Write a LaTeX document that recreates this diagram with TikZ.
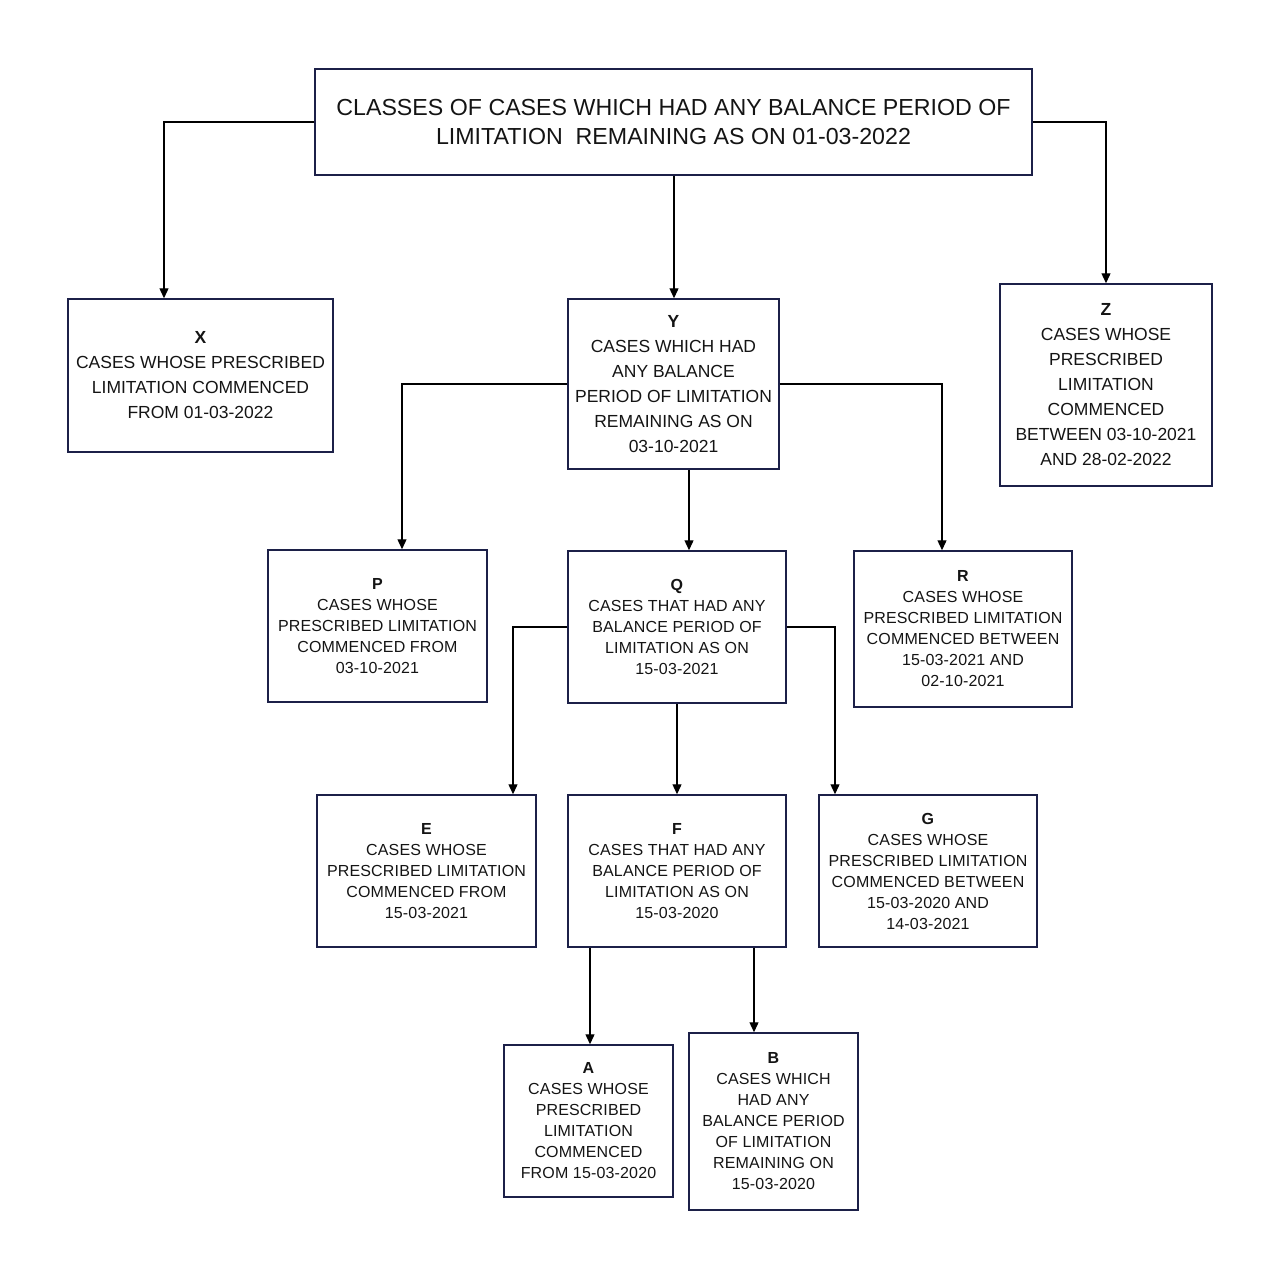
\documentclass[tikz,border=0pt]{standalone}
\usepackage{fontspec}
\setmainfont{Liberation Sans}
\usetikzlibrary{arrows.meta}
\definecolor{navy}{RGB}{28,32,72}
\definecolor{ink}{RGB}{20,20,20}
\tikzset{
  box/.style={draw=navy, line width=1.5pt, rectangle, inner sep=0pt, align=center, text=ink},
  bigtext/.style={font=\fontsize{23.2}{29}\selectfont},
  midtext/.style={font=\fontsize{17.5}{25}\selectfont},
  smalltext/.style={font=\fontsize{16}{21}\selectfont\addfontfeatures{LetterSpace=1}},
  conn/.style={line width=1.3pt, draw=black, -{Triangle[length=10pt,width=9pt]}},
}
\begin{document}
\begin{tikzpicture}[x=1pt,y=-1pt]
\useasboundingbox (0,0) rectangle (1281,1279);
% top
\node[box, bigtext, minimum width=717pt, minimum height=106pt] (T) at (673.5,122)
  {CLASSES OF CASES WHICH HAD ANY BALANCE PERIOD OF\\LIMITATION\ \ REMAINING AS ON 01-03-2022};
% level 1
\node[box, midtext, minimum width=265pt, minimum height=153pt] (X) at (200.5,375.5)
  {\textbf{X}\\CASES WHOSE PRESCRIBED\\LIMITATION COMMENCED\\FROM 01-03-2022};
\node[box, midtext, minimum width=211pt, minimum height=170pt] (Y) at (673.5,384)
  {\textbf{Y}\\CASES WHICH HAD\\ANY BALANCE\\PERIOD OF LIMITATION\\REMAINING AS ON\\03-10-2021};
\node[box, midtext, minimum width=212pt, minimum height=202pt] (Z) at (1106,385)
  {\textbf{Z}\\CASES WHOSE\\PRESCRIBED\\LIMITATION\\COMMENCED\\BETWEEN 03-10-2021\\AND 28-02-2022};
% level 2
\node[box, smalltext, minimum width=219pt, minimum height=152pt] (P) at (377.5,626)
  {\textbf{P}\\CASES WHOSE\\PRESCRIBED LIMITATION\\COMMENCED FROM\\03-10-2021};
\node[box, smalltext, minimum width=218pt, minimum height=152pt] (Q) at (677,627)
  {\textbf{Q}\\CASES THAT HAD ANY\\BALANCE PERIOD OF\\LIMITATION AS ON\\15-03-2021};
\node[box, smalltext, minimum width=218pt, minimum height=156pt] (R) at (963,629)
  {\textbf{R}\\CASES WHOSE\\PRESCRIBED LIMITATION\\COMMENCED BETWEEN\\15-03-2021 AND\\02-10-2021};
% level 3
\node[box, smalltext, minimum width=219pt, minimum height=152pt] (E) at (426.5,871)
  {\textbf{E}\\CASES WHOSE\\PRESCRIBED LIMITATION\\COMMENCED FROM\\15-03-2021};
\node[box, smalltext, minimum width=218pt, minimum height=152pt] (F) at (677,871)
  {\textbf{F}\\CASES THAT HAD ANY\\BALANCE PERIOD OF\\LIMITATION AS ON\\15-03-2020};
\node[box, smalltext, minimum width=218pt, minimum height=152pt] (G) at (928,871)
  {\textbf{G}\\CASES WHOSE\\PRESCRIBED LIMITATION\\COMMENCED BETWEEN\\15-03-2020 AND\\14-03-2021};
% level 4
\node[box, smalltext, minimum width=169pt, minimum height=152pt] (A) at (588.5,1121)
  {\textbf{A}\\CASES WHOSE\\PRESCRIBED\\LIMITATION\\COMMENCED\\FROM 15-03-2020};
\node[box, smalltext, minimum width=169pt, minimum height=177pt] (B) at (773.5,1121.5)
  {\textbf{B}\\CASES WHICH\\HAD ANY\\BALANCE PERIOD\\OF LIMITATION\\REMAINING ON\\15-03-2020};
% connectors
\draw[conn] (T.west) -| ([xshift=-36.5pt]X.north);
\draw[conn] ([xshift=0.5pt]T.south) -- ([xshift=0.5pt]Y.north);
\draw[conn] (T.east) -| (Z.north);
\draw[conn] (Y.west) -| ([xshift=24.5pt]P.north);
\draw[conn] ([xshift=15.5pt]Y.south) -- ([xshift=12pt]Q.north);
\draw[conn] (Y.east) -| ([xshift=-21pt]R.north);
\draw[conn] (Q.west) -| ([xshift=86.5pt]E.north);
\draw[conn] (Q.south) -- (F.north);
\draw[conn] (Q.east) -| ([xshift=-93pt]G.north);
\draw[conn] ([xshift=-87pt]F.south) -- ([xshift=-87pt]F.south |- A.north);
\draw[conn] ([xshift=77pt]F.south) -- ([xshift=77pt]F.south |- B.north);
\end{tikzpicture}
\end{document}
